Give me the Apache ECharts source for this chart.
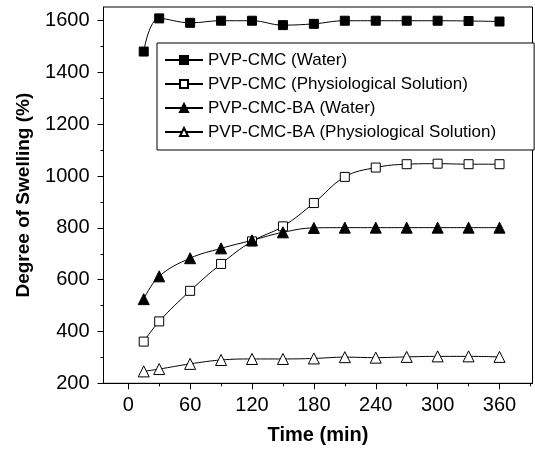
<!DOCTYPE html>
<html>
<head>
<meta charset="utf-8">
<script src="https://cdn.jsdelivr.net/npm/echarts@6/dist/echarts.min.js"></script>
<style>html,body{margin:0;padding:0;background:#fff;}#c{width:535px;height:452px;}</style>
</head>
<body>
<div id="c"></div>
<script>
var times = [15, 30, 60, 90, 120, 150, 180, 210, 240, 270, 300, 330, 360];
var pvpCmcWater = [1481, 1609, 1592, 1600, 1600, 1583, 1588, 1600, 1600, 1600, 1600, 1599, 1597];
var pvpCmcPhys = [361, 439, 557, 661, 748, 806, 896, 997, 1033, 1046, 1048, 1046, 1046];
var pvpCmcBaWater = [525, 613, 683, 721, 752, 783, 800, 801, 801, 801, 801, 801, 801];
var pvpCmcBaPhys = [246, 255, 275, 290, 294, 294, 296, 301, 299, 302, 304, 304, 302];
var seriesNames = ['PVP-CMC (Water)', 'PVP-CMC (Physiological Solution)', 'PVP-CMC-BA (Water)', 'PVP-CMC-BA (Physiological Solution)'];
var xMajorTicks = [0, 60, 120, 180, 240, 300, 360];
var xMinorTicks = [30, 90, 150, 210, 270, 330, 390];
var yMajorTicks = [200, 400, 600, 800, 1000, 1200, 1400, 1600];
var yMinorTicks = [300, 500, 700, 900, 1100, 1300, 1500];

function pairs(vals) { return times.map(function (t, i) { return [t, vals[i]]; }); }

var FONT = 'Liberation Sans';
var chart = echarts.init(document.getElementById('c'), null, { renderer: 'canvas' });

function mkSeries(name, vals, symbol, size, filled) {
  return {
    name: name, type: 'line', data: pairs(vals), smooth: 0.4,
    symbol: symbol, symbolSize: size, showSymbol: true,
    xAxisIndex: 0, yAxisIndex: 0,
    lineStyle: { color: '#000', width: 1 },
    itemStyle: { color: filled ? '#000' : '#fff', borderColor: '#000', borderWidth: 1 },
    emphasis: { disabled: true },
    animation: false
  };
}

var xMin = -24, xMax = 392, yMin = 200, yMax = 1653;

chart.setOption({
  animation: false,
  backgroundColor: '#fff',
  grid: { left: 103.5, top: 7, right: 2.5, bottom: 68.7, show: true, borderColor: '#000', borderWidth: 1, backgroundColor: 'transparent' },
  legend: {
    orient: 'vertical', left: 157, top: 43,
    data: seriesNames,
    itemWidth: 38, itemHeight: 10, itemGap: 6,
    padding: [8, 38, 9, 7],
    borderColor: '#000', borderWidth: 1, backgroundColor: '#fff',
    textStyle: { fontFamily: FONT, fontSize: 17, color: '#000', lineHeight: 18 },
    selectedMode: false
  },
  xAxis: [
    {
      type: 'value', min: xMin, max: xMax, position: 'bottom',
      name: 'Time (min)', nameLocation: 'middle', nameGap: 42,
      nameTextStyle: { fontFamily: FONT, fontSize: 20, fontWeight: 'bold', color: '#000' },
      axisLine: { show: true, onZero: false, lineStyle: { color: '#000', width: 1 } },
      axisTick: { show: true, inside: false, length: 6, customValues: xMajorTicks, lineStyle: { color: '#000' } },
      axisLabel: { show: true, customValues: xMajorTicks, margin: 12, fontFamily: FONT, fontSize: 20, color: '#000', formatter: function (v) { return String(v); } },
      splitLine: { show: false }
    },
    {
      type: 'value', min: xMin, max: xMax, position: 'bottom',
      axisLine: { show: false, onZero: false },
      axisTick: { show: true, inside: false, length: 3, customValues: xMinorTicks, lineStyle: { color: '#000' } },
      axisLabel: { show: false },
      splitLine: { show: false }
    }
  ],
  yAxis: [
    {
      type: 'value', min: yMin, max: yMax, position: 'left',
      name: 'Degree of Swelling (%)', nameLocation: 'middle', nameGap: 70,
      nameTextStyle: { fontFamily: FONT, fontSize: 19, fontWeight: 'bold', color: '#000' },
      axisLine: { show: true, onZero: false, lineStyle: { color: '#000', width: 1 } },
      axisTick: { show: true, inside: false, length: 6, customValues: yMajorTicks, lineStyle: { color: '#000' } },
      axisLabel: { show: true, customValues: yMajorTicks, margin: 14, fontFamily: FONT, fontSize: 20, color: '#000', formatter: function (v) { return String(v); } },
      splitLine: { show: false }
    },
    {
      type: 'value', min: yMin, max: yMax, position: 'left',
      axisLine: { show: false, onZero: false },
      axisTick: { show: true, inside: false, length: 3, customValues: yMinorTicks, lineStyle: { color: '#000' } },
      axisLabel: { show: false },
      splitLine: { show: false }
    }
  ],
  series: [
    mkSeries(seriesNames[0], pvpCmcWater, 'rect', 9, true),
    mkSeries(seriesNames[1], pvpCmcPhys, 'rect', 9, false),
    mkSeries(seriesNames[2], pvpCmcBaWater, 'triangle', 11, true),
    mkSeries(seriesNames[3], pvpCmcBaPhys, 'triangle', 11, false)
  ]
});
</script>
</body>
</html>
